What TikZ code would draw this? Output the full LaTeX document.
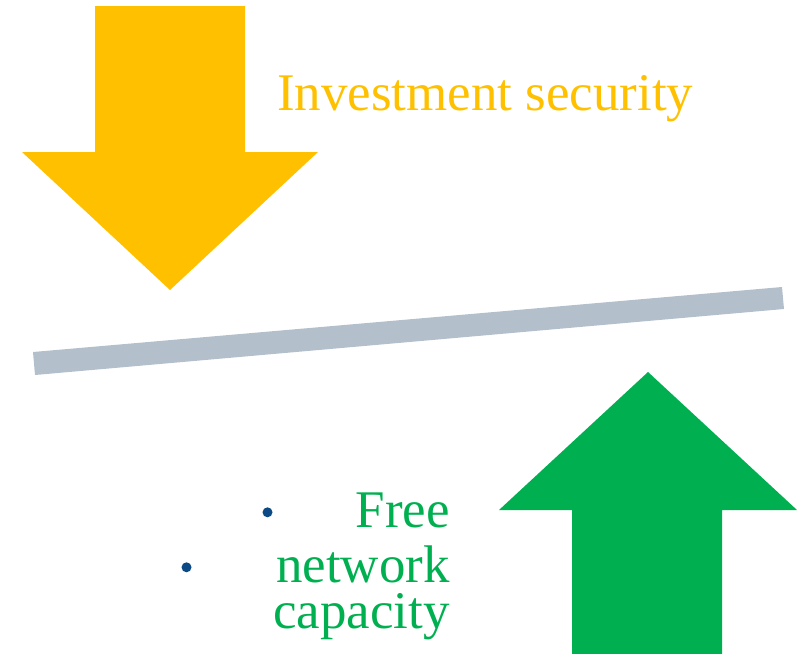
\documentclass[tikz,border=0pt]{standalone}
\usepackage{fontspec}
\setmainfont{Liberation Serif}
\definecolor{arrowyellow}{HTML}{FFC000}
\definecolor{arrowgreen}{HTML}{00B050}
\definecolor{bargray}{HTML}{B4BFCC}
\definecolor{bulletblue}{HTML}{0B4A85}
\tikzset{
  bigtext/.style={inner sep=0pt, font=\fontsize{39.7pt}{41pt}\selectfont},
  bulletdot/.style={circle, fill=bulletblue, inner sep=0pt, minimum size=7.5pt}
}
\begin{document}
\begin{tikzpicture}[x=0.75pt,y=-0.75pt]
\useasboundingbox (0,0) rectangle (797,654);
% yellow down arrow
\fill[arrowyellow] (95,6) -- (245,6) -- (245,152) -- (318,152) -- (170,290) -- (22,152) -- (95,152) -- cycle;
% green up arrow
\fill[arrowgreen] (572,654) -- (572,510) -- (499,510) -- (648,372) -- (797,510) -- (722,510) -- (722,654) -- cycle;
% gray bar
\fill[bargray] (33,352) -- (782,287) -- (784,309) -- (35,375) -- cycle;
% texts
\node[bigtext, text=arrowyellow, anchor=base west] (inv) at (277,110) {Investment security};
\node[bigtext, text=arrowgreen, anchor=base east] (free) at (450,527) {Free};
\node[bigtext, text=arrowgreen, anchor=base east] (net) at (450,582) {network};
\node[bigtext, text=arrowgreen, anchor=base east] (cap) at (450,628) {capacity};
\node[bulletdot] (b1) at (267.5,512.3) {};
\node[bulletdot] (b2) at (186.5,567.3) {};
\end{tikzpicture}
\end{document}
